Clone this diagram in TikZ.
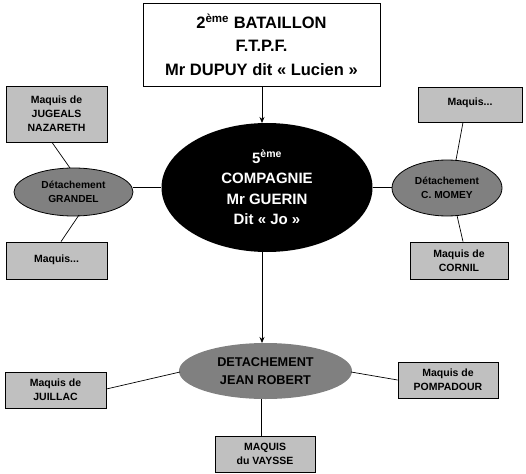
\documentclass[tikz,border=0pt]{standalone}
\usepackage{fontspec}
\setmainfont{Liberation Sans}
\usetikzlibrary{shapes.geometric,arrows.meta}
\definecolor{boxgray}{HTML}{C0C0C0}
\definecolor{ellgray}{HTML}{808080}
\tikzset{
  every node/.style={font=\bfseries, align=center, inner sep=0pt},
  topbox/.style={draw, line width=0.8pt, fill=white, minimum width=237pt, minimum height=83pt, font=\bfseries\fontsize{16.5}{23.5}\selectfont},
  graybox/.style={draw, line width=0.8pt, fill=boxgray, font=\bfseries\fontsize{10.5}{14}\selectfont},
  bigell/.style={ellipse, fill=black, text=white, minimum width=211pt, minimum height=129pt, font=\bfseries\fontsize{15}{20.5}\selectfont},
  sideell/.style={ellipse, draw, line width=0.8pt, fill=ellgray, font=\bfseries\fontsize{10.2}{14}\selectfont},
  botell/.style={ellipse, fill=ellgray, minimum width=173pt, minimum height=56pt, font=\bfseries\fontsize{12.7}{18}\selectfont},
  conn/.style={line width=0.7pt},
  arr/.style={line width=0.7pt, -{Stealth[length=6pt,width=5pt]}}
}
\begin{document}
\begin{tikzpicture}[x=1pt,y=-1pt]
\useasboundingbox (0,0) rectangle (526,473);
% top
\node[topbox] (top) at (261.5,44.5) {2\textsuperscript{ème} BATAILLON\\F.T.P.F.\\Mr DUPUY dit « Lucien »};
\node[bigell] (comp) at (267,187.5) {5\textsuperscript{ème}\\COMPAGNIE\\Mr GUERIN\\Dit « Jo »};
% left
\node[sideell, minimum width=119pt, minimum height=48pt] (grandel) at (73.5,192) {Détachement\\GRANDEL};
\node[graybox, minimum width=101pt, minimum height=56pt] (jugeals) at (56.5,114) {Maquis de\\JUGEALS\\NAZARETH};
\node[graybox, minimum width=101pt, minimum height=37pt] (maqL) at (56.5,260.5) {\raisebox{3pt}{Maquis...}};
% right
\node[sideell, minimum width=110pt, minimum height=56pt] (momey) at (447,188) {Détachement\\C. MOMEY};
\node[graybox, minimum width=104pt, minimum height=35pt] (maqR) at (470,104.5) {\raisebox{5pt}{Maquis...}};
\node[graybox, minimum width=98pt, minimum height=37pt] (cornil) at (459,260.5) {Maquis de\\CORNIL};
% bottom
\node[botell] (robert) at (265.5,371) {DETACHEMENT\\JEAN ROBERT};
\node[graybox, minimum width=101pt, minimum height=36pt] (juillac) at (55.5,390) {Maquis de\\JUILLAC};
\node[graybox, minimum width=100pt, minimum height=36pt] (pomp) at (448,380) {Maquis de\\POMPADOUR};
\node[graybox, minimum width=100pt, minimum height=36pt] (vaysse) at (265,454) {MAQUIS\\du VAYSSE};
% connectors
\draw[arr] (top.south -| 262,0) -- (262,123);
\draw[arr] (262,252) -- (262,343);
\draw[conn] (grandel.east |- 0,187) -- (comp.west |- 0,187);
\draw[conn] (comp.east |- 0,187) -- (momey.west |- 0,187);
\draw[conn] (jugeals.south -| 52,0) -- (70,168);
\draw[conn] (79,215) -- (maqL.north -| 61,0);
\draw[conn] (maqR.south -| 463,0) -- (456,160);
\draw[conn] (457,215.5) -- (cornil.north -| 463,0);
\draw[conn] (juillac.east |- 0,389) -- (180,372);
\draw[conn] (351,372) -- (pomp.west |- 0,380);
\draw[conn] (robert.south -| 261,0) -- (vaysse.north -| 261,0);
\end{tikzpicture}
\end{document}
